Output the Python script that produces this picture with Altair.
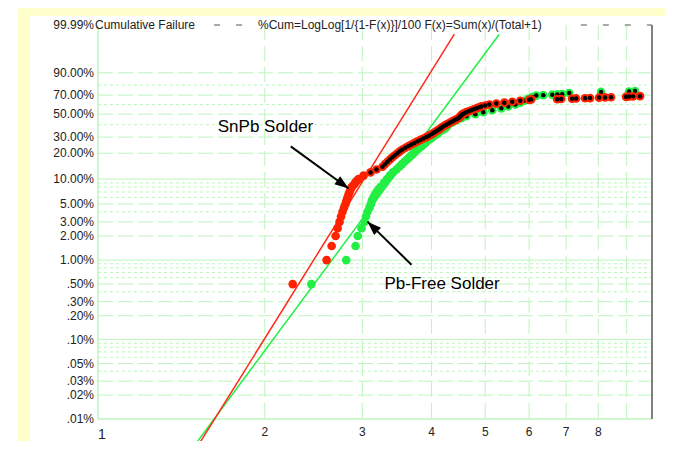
import altair as alt
import numpy as np
import pandas as pd

# ---------------- data ----------------
snpb_time = [2.246, 2.586, 2.641, 2.685, 2.707, 2.729, 2.746, 2.763, 2.780, 2.798,
             2.809, 2.821, 2.833, 2.845, 2.857, 2.869, 2.893, 2.911, 2.929, 2.953,
             3.015, 3.104, 3.182, 3.262, 3.296, 3.331, 3.365, 3.400, 3.435, 3.471,
             3.507, 3.544, 3.589, 3.634, 3.680, 3.726, 3.772, 3.819, 3.867, 3.915,
             3.956, 3.997, 4.030, 4.064, 4.098, 4.132, 4.157, 4.183, 4.218, 4.254,
             4.290, 4.325, 4.361, 4.398, 4.435, 4.472, 4.490, 4.510, 4.530, 4.547,
             4.585, 4.623, 4.670, 4.720, 4.770, 4.819, 4.870, 4.920, 5.000, 5.086,
             5.236, 5.413, 5.595, 5.783, 6.003, 6.053, 6.744, 6.855, 7.174, 7.295,
             7.571, 7.730, 8.024, 8.226, 8.434, 8.977, 9.090, 9.243, 9.515]
snpb_cum = [0.5, 1.0, 1.5, 2.0, 2.5, 3.0, 3.5, 4.0, 4.5, 5.0,
            5.5, 6.0, 6.5, 7.0, 7.5, 8.0, 8.5, 9.0, 9.5, 10,
            11, 12, 13, 14, 15, 16, 17, 18, 19, 20,
            21, 22, 23, 24, 25, 26, 27, 28, 29, 30,
            31, 32, 33, 34, 35, 36, 37, 38, 39, 40,
            41, 42, 43, 44, 45, 46, 47, 48, 49, 50,
            51, 52, 53, 54, 55, 56, 57, 58, 59, 60,
            61, 62, 63, 64, 65, 65.5, 65.7, 65.9, 66.3, 66.5,
            66.7, 66.9, 67.4, 67.6, 67.8, 68.2, 68.5, 68.7, 68.9]

pbfree_time = [2.427, 2.806, 2.917, 2.944, 2.990, 3.027, 3.046, 3.065, 3.091, 3.110,
               3.123, 3.142, 3.162, 3.182, 3.208, 3.235, 3.283, 3.324, 3.365, 3.407,
               3.457, 3.500, 3.537, 3.574, 3.612, 3.649, 3.680, 3.711, 3.741, 3.773,
               3.804, 3.836, 3.868, 3.899, 3.915, 3.948, 3.989, 4.014, 4.047, 4.081,
               4.107, 4.132, 4.167, 4.202, 4.236, 4.260, 4.290, 4.361, 4.434, 4.528,
               4.623, 4.798, 4.960, 5.149, 5.346, 5.503, 5.667, 5.783, 5.880, 5.978,
               6.080, 6.182, 6.364, 6.606, 6.750, 6.885, 7.090, 8.090, 9.090, 9.320]
pbfree_cum = [0.5, 1.0, 1.5, 2.0, 2.5, 3.0, 3.5, 4.0, 4.5, 5.0,
              5.5, 6.0, 6.5, 7.0, 7.5, 8.0, 9, 10, 11, 12,
              13, 14, 15, 16, 17, 18, 19, 20, 21, 22,
              23, 24, 25, 26, 27, 28, 29, 30, 31, 32,
              33, 34, 35, 36, 37, 38, 40, 42, 44, 46,
              48, 50, 52, 54, 56, 58, 60, 62, 64, 66,
              68, 69.5, 70, 70.5, 70.8, 71, 72.2, 73.3, 73.8, 74.3]

snpb_fit_time = [1.502, 4.398]
snpb_fit_cum = [0.00418, 99.913]
pbfree_fit_time = [1.477, 5.301]
pbfree_fit_cum = [0.00418, 99.913]

y_tick_pct = [99.99, 90, 70, 50, 30, 20, 10, 5, 3, 2, 1, 0.5, 0.3, 0.2, 0.1,
              0.05, 0.03, 0.02, 0.01]
y_tick_labels = ["99.99%", "90.00%", "70.00%", "50.00%", "30.00%", "20.00%", "10.00%",
                 "5.00%", "3.00%", "2.00%", "1.00%", ".50%", ".30%", ".20%", ".10%",
                 ".05%", ".03%", ".02%", ".01%"]
x_tick_values = [2, 3, 4, 5, 6, 7, 8]
x_tick_labels = ["2", "3", "4", "5", "6", "7", "8"]
x_first_value = [1]
x_first_label = ["1"]
grid_solid_pct = [10, 1, 0.1]
grid_dashed_pct = [90, 70, 50, 30, 20, 5, 3, 2, 0.5, 0.3, 0.2, 0.05, 0.03, 0.02]
grid_dotted_pct = [80, 60, 40, 9, 8, 7, 6, 4, 0.9, 0.8, 0.7, 0.6, 0.4,
                   0.09, 0.08, 0.07, 0.06, 0.04]
grid_x = [2, 3, 4, 5, 6, 7, 8, 9]

annot_text = ["SnPb Solder", "Pb-Free Solder"]
annot_time = [1.645, 3.289]
annot_cum = [37.6, 0.506]
arrow_from_time = [2.228, 3.68]
arrow_from_cum = [23.8, 0.876]
arrow_to_time = [2.834, 3.065]
arrow_to_cum = [7.7, 3.02]

top_seg_start = [1.62, 7.44]
top_seg_end = [1.93, 10.0]

header_left = "Cumulative Failure"
header_right = "%Cum=LogLog[1/{1-F(x)}]/100  F(x)=Sum(x)/(Total+1)"

snpb_black_from = 12
pbfree_black_from = 40

# ---------------- helpers / styles ----------------
def weib(p):
    p = np.asarray(p, dtype=float) / 100.0
    return np.log(-np.log(1.0 - p))

W, H = 554, 394
RED = "#ff2200"
GREEN = "#22ee44"
GRID = "#bdf5bd"
FONT = "Liberation Sans"
TXT = "#222222"

ymin, ymax = float(weib([0.01])[0]), float(weib([99.99])[0])
xs = alt.Scale(type="log", domain=[1, 10], nice=False)
ysc = alt.Scale(domain=[ymin, ymax], nice=False, zero=False)

def X(f="t:Q"):
    return alt.X(f, scale=xs, axis=None)

def Y(f="w:Q"):
    return alt.Y(f, scale=ysc, axis=None)

snpb = pd.DataFrame({"t": snpb_time, "F": snpb_cum})
snpb["w"] = weib(snpb["F"])
pbf = pd.DataFrame({"t": pbfree_time, "F": pbfree_cum})
pbf["w"] = weib(pbf["F"])

fit_red = pd.DataFrame({"t": snpb_fit_time, "w": weib(snpb_fit_cum)})
fit_green = pd.DataFrame({"t": pbfree_fit_time, "w": weib(pbfree_fit_cum)})

one = pd.DataFrame({"a": [0]})

# ---------------- frame ----------------
yellow_left = alt.Chart(one).mark_rect(color="#ffffcc").encode(
    x=alt.value(-80), x2=alt.value(-68), y=alt.value(-17), y2=alt.value(H + 30))
yellow_top = alt.Chart(one).mark_rect(color="#ffffcc").encode(
    x=alt.value(-80), x2=alt.value(W + 30), y=alt.value(-17), y2=alt.value(-9))

# ---------------- grid ----------------
def hgrid(pcts, dash):
    d = pd.DataFrame({"w": weib(pcts)})
    kw = dict(color=GRID, strokeWidth=1)
    if dash:
        kw["strokeDash"] = dash
    return alt.Chart(d).mark_rule(**kw).encode(y=Y(), x=alt.value(0), x2=alt.value(W))

g_solid = hgrid(grid_solid_pct, None)
g_dash = hgrid(grid_dashed_pct, [15, 5])
g_dot = hgrid(grid_dotted_pct, [3, 3])

g_vert = alt.Chart(pd.DataFrame({"t": grid_x})).mark_rule(
    color=GRID, strokeWidth=1, strokeDash=[15, 6]).encode(
    x=X(), y=alt.value(0), y2=alt.value(H))

left_axis = alt.Chart(one).mark_rule(color=GRID, strokeWidth=1.5).encode(
    x=alt.value(0), y=alt.value(0), y2=alt.value(H))
bottom_axis = alt.Chart(one).mark_rule(color=GRID, strokeWidth=1.5).encode(
    x=alt.value(0), x2=alt.value(W), y=alt.value(H))

top_dash = alt.Chart(pd.DataFrame({"t": top_seg_start, "t2": top_seg_end})).mark_rule(
    color="#555", strokeWidth=1, strokeDash=[6, 16]).encode(
    x=X(), x2="t2:Q", y=alt.value(0))

right_border = alt.Chart(one).mark_rule(color="#808080", strokeWidth=2).encode(
    x=alt.value(W), y=alt.value(0), y2=alt.value(H))

# ---------------- tick labels ----------------
ylab = pd.DataFrame({"w": weib(y_tick_pct), "label": y_tick_labels})
y_labels = alt.Chart(ylab).mark_text(align="right", baseline="middle", font=FONT,
                                     fontSize=12, color=TXT).encode(
    x=alt.value(-4), y=Y(), text="label:N")

xlab = pd.DataFrame({"t": x_tick_values, "label": x_tick_labels})
x_labels = alt.Chart(xlab).mark_text(align="center", baseline="top", font=FONT,
                                     fontSize=12, color=TXT).encode(
    x=X(), y=alt.value(H + 8), text="label:N")
xlab1 = pd.DataFrame({"t": x_first_value, "label": x_first_label})
x_label1 = alt.Chart(xlab1).mark_text(align="left", baseline="top", font=FONT,
                                      fontSize=14, color=TXT).encode(
    x=X(), y=alt.value(H + 9), text="label:N")

# ---------------- fit lines ----------------
line_red = alt.Chart(fit_red).mark_line(color="#ff2a1a", strokeWidth=1.5).encode(x=X(), y=Y())
line_green = alt.Chart(fit_green).mark_line(color="#22ee44", strokeWidth=1.5).encode(x=X(), y=Y())

# ---------------- points ----------------
def colour_pts(df, color):
    return alt.Chart(df).mark_point(shape="circle", filled=True, size=75, color=color,
                                    opacity=1).encode(x=X(), y=Y())

def black_core(df):
    return alt.Chart(df).mark_point(shape="circle", filled=True, size=20, color="black",
                                    opacity=1).encode(x=X(), y=Y())

g_all = colour_pts(pbf, GREEN)
g_core = black_core(pbf[pbf["F"] >= pbfree_black_from])
r_all = colour_pts(snpb, RED)
r_core = black_core(snpb[snpb["F"] >= snpb_black_from])

# ---------------- annotations ----------------
arr = pd.DataFrame({"t": arrow_from_time, "w": weib(arrow_from_cum),
                    "t2": arrow_to_time, "w2": weib(arrow_to_cum)})
arrow_lines = alt.Chart(arr).mark_rule(color="black", strokeWidth=2).encode(
    x=X(), x2="t2:Q", y=Y(), y2="w2:Q")

HEAD = "M0,0 L-0.7,2 L0.7,2 Z"
def head(i, ang):
    d = arr.iloc[[i]]
    return alt.Chart(d).mark_point(shape=HEAD, filled=True, color="black", size=196,
                                   opacity=1, angle=ang).encode(x=X("t2:Q"), y=Y("w2:Q"))

head1 = head(0, 126)
head2 = head(1, 314)

ann = pd.DataFrame({"t": annot_time, "w": weib(annot_cum), "label": annot_text})
ann_text = alt.Chart(ann).mark_text(align="left", baseline="middle", font=FONT,
                                    fontSize=17, color="black").encode(
    x=X(), y=Y(), text="label:N")

hdr1 = alt.Chart(one).mark_text(align="left", baseline="middle", font=FONT, fontSize=12,
                                color=TXT).encode(
    x=alt.value(-3), y=alt.value(0), text=alt.value(header_left))
hdr2 = alt.Chart(one).mark_text(align="left", baseline="middle", font=FONT, fontSize=12,
                                color=TXT).encode(
    x=alt.value(160), y=alt.value(0), text=alt.value(header_right))

chart = alt.layer(
    yellow_left, yellow_top,
    g_solid, g_dash, g_dot, g_vert, left_axis, bottom_axis, top_dash, right_border,
    y_labels, x_labels, x_label1,
    line_green, line_red,
    g_all, g_core, r_all, r_core,
    arrow_lines, head1, head2, ann_text, hdr1, hdr2,
).properties(
    width=W, height=H,
    autosize=alt.AutoSizeParams(type="none"),
    padding={"left": 90, "top": 17, "right": 13, "bottom": 22},
    background="white",
).configure_view(stroke=None)

chart.save("out.html", embed_options={"renderer": "svg", "actions": False})
